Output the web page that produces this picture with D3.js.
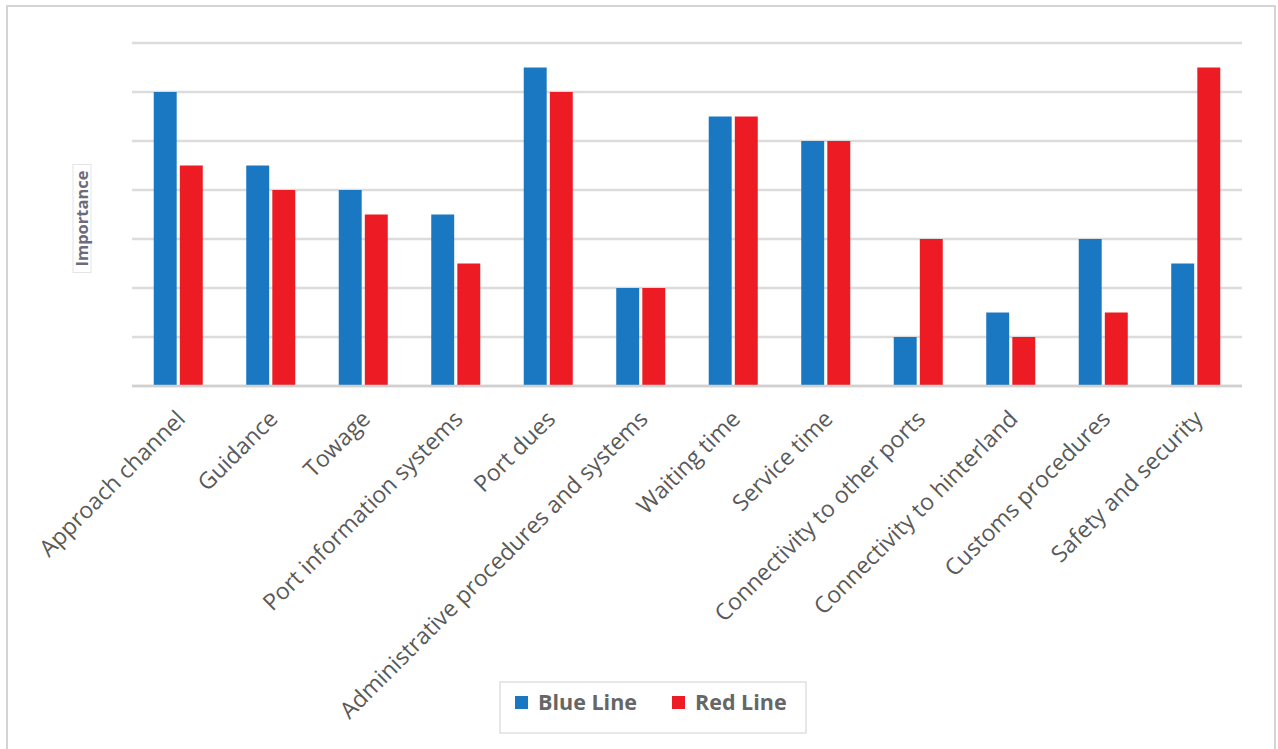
<!DOCTYPE html>
<html>
<head>
<meta charset="utf-8">
<script src="https://cdn.jsdelivr.net/npm/d3@7/dist/d3.min.js"></script>
<style>
  html, body { margin: 0; padding: 0; background: #fff; }
  svg { display: block; }
</style>
</head>
<body>
<svg id="chart" width="1278" height="749"></svg>
<script>
// Importance ratings per port-service factor
const categories = [
  "Approach channel", "Guidance", "Towage", "Port information systems",
  "Port dues", "Administrative procedures and systems", "Waiting time",
  "Service time", "Connectivity to other ports", "Connectivity to hinterland",
  "Customs procedures", "Safety and security"
];
const blueValues = [6, 4.5, 4, 3.5, 6.5, 2, 5.5, 5, 1, 1.5, 3, 2.5];
const redValues  = [4.5, 4, 3.5, 2.5, 6, 2, 5.5, 5, 3, 1, 1.5, 6.5];
const seriesNames = ["Blue Line", "Red Line"];
const gridTicks = [0, 1, 2, 3, 4, 5, 6, 7];

const seriesColors = ["#1a78c2", "#ed1c24"];
const textColor = "#595959";

const svg = d3.select("#chart");

// outer chart frame
svg.append("rect")
  .attr("x", 7).attr("y", 6)
  .attr("width", 1268).attr("height", 760)
  .attr("fill", "#fff")
  .attr("stroke", "#d4d4d4").attr("stroke-width", 2);

const plot = { left: 132, right: 1242, top: 43, bottom: 386 };

const x = d3.scaleBand()
  .domain(categories)
  .range([plot.left, plot.right])
  .paddingInner(0.47).paddingOuter(0.235);

const xInner = d3.scaleBand()
  .domain(seriesNames)
  .range([0, x.bandwidth()])
  .paddingInner(0.12);

const y = d3.scaleLinear().domain([0, 7]).range([plot.bottom, plot.top]);

// horizontal gridlines
svg.append("g")
  .selectAll("line")
  .data(gridTicks)
  .join("line")
  .attr("x1", plot.left).attr("x2", plot.right)
  .attr("y1", d => y(d)).attr("y2", d => y(d))
  .attr("stroke", "#dcdcdc").attr("stroke-width", 2.5);

// bars
const rows = categories.map((c, i) => ({ cat: c, vals: [blueValues[i], redValues[i]] }));
const groups = svg.append("g")
  .selectAll("g")
  .data(rows)
  .join("g")
  .attr("transform", d => `translate(${x(d.cat)},0)`);

groups.selectAll("rect")
  .data(d => d.vals.map((v, j) => ({ name: seriesNames[j], v, j })))
  .join("rect")
  .attr("x", d => xInner(d.name))
  .attr("width", xInner.bandwidth())
  .attr("y", d => y(d.v))
  .attr("height", d => y(0) - y(d.v))
  .attr("fill", d => seriesColors[d.j]);

// baseline
svg.append("line")
  .attr("x1", plot.left).attr("x2", plot.right)
  .attr("y1", y(0)).attr("y2", y(0))
  .attr("stroke", "#d0d0d0").attr("stroke-width", 2.5);

// rotated category labels
svg.append("g")
  .selectAll("text")
  .data(categories)
  .join("text")
  .attr("transform", d => {
    const cx = x(d) + x.bandwidth() / 2 - 3;
    return `translate(${cx},${plot.bottom + 23}) rotate(-45)`;
  })
  .attr("text-anchor", "end")
  .attr("dy", "0.7em")
  .attr("font-family", "'Open Sans', sans-serif")
  .attr("font-size", 23)
  .attr("fill", textColor)
  .text(d => d);

// y axis title
const yTitle = svg.append("g")
  .attr("transform", `translate(82,${(plot.top + plot.bottom) / 2 + 4}) rotate(-90)`);
yTitle.append("rect")
  .attr("x", -54).attr("y", -9)
  .attr("width", 108).attr("height", 18)
  .attr("fill", "none").attr("stroke", "#e4e4e4").attr("stroke-width", 1);
yTitle.append("text")
  .attr("text-anchor", "middle")
  .attr("dy", "0.35em")
  .attr("font-family", "'Open Sans', sans-serif")
  .attr("font-weight", "bold")
  .attr("font-size", 16.5)
  .attr("fill", "#6b6b7b")
  .text("Importance");

// legend
const legend = svg.append("g").attr("transform", "translate(500,682)");
legend.append("rect")
  .attr("width", 306).attr("height", 51)
  .attr("fill", "#fff").attr("stroke", "#d0d0d0").attr("stroke-width", 1);
const legendOffsets = [15, 172];
const items = legend.selectAll("g.item")
  .data(seriesNames)
  .join("g")
  .attr("class", "item")
  .attr("transform", (d, i) => `translate(${legendOffsets[i]},20)`);
items.append("rect")
  .attr("x", 0).attr("y", -6)
  .attr("width", 13).attr("height", 13)
  .attr("fill", (d, i) => seriesColors[i]);
items.append("text")
  .attr("x", 23)
  .attr("dy", "0.35em")
  .attr("font-family", "'Open Sans', sans-serif")
  .attr("font-weight", "bold")
  .attr("font-size", 21.5)
  .attr("fill", "#666")
  .text(d => d);
</script>
</body>
</html>
